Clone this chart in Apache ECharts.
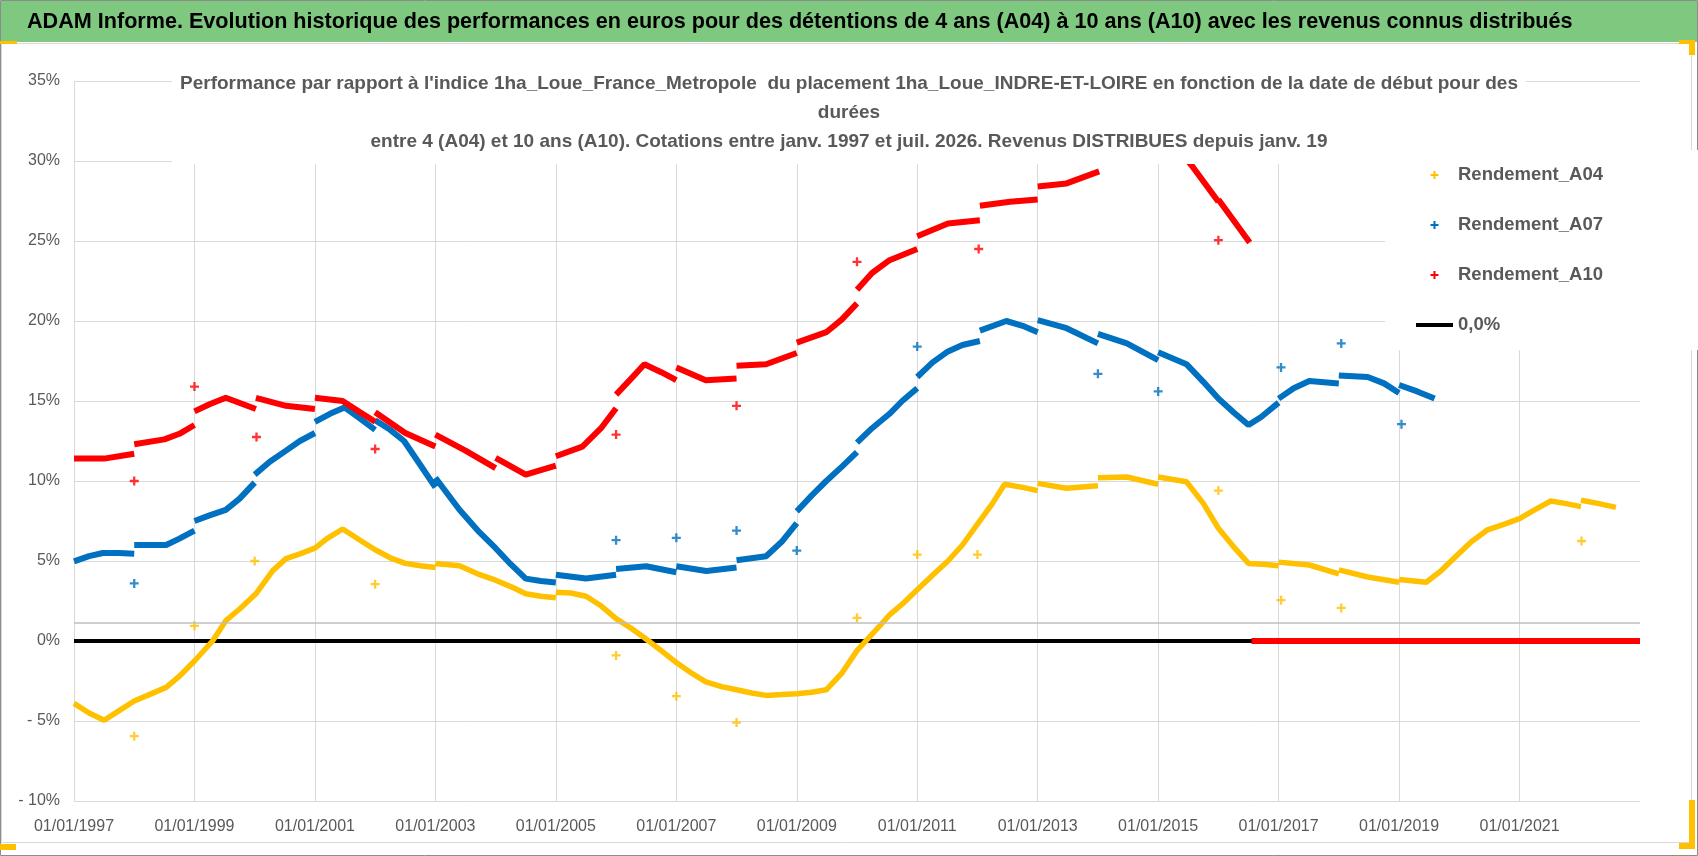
<!DOCTYPE html>
<html>
<head>
<meta charset="utf-8">
<title>ADAM Informe - Rendements</title>
<script src="https://cdn.jsdelivr.net/npm/echarts/dist/echarts.min.js"></script>
<style>
  html, body { margin: 0; padding: 0; background: #fff; }
  #chart { width: 1698px; height: 856px; }
</style>
</head>
<body>
<div id="chart"></div>
<script>
// axe des dates (années décimales), bornes et niveaux
const xMin = 1997, xMax = 2023, xStep = 2;
const yMin = -10, yMax = 35, yStep = 5;
const zeroLevel = 0;
const refLevel = 1.15;

// Rendement_A04 : tronçons entre deux sauts de janvier
const a04Segments = [
  [[1997.0,-3.9],[1997.25,-4.5],[1997.5,-4.95],[1997.75,-4.35],[1998.0,-3.75],[1998.25,-3.35],[1998.53,-2.9],[1998.75,-2.2],[1999.0,-1.25],[1999.3,0.0],[1999.52,1.27],[1999.75,2.0],[2000.02,2.95],[2000.3,4.4],[2000.52,5.15],[2000.75,5.45],[2001.0,5.8],[2001.2,6.4],[2001.46,7.0],[2001.75,6.3],[2002.0,5.7],[2002.25,5.2],[2002.5,4.85],[2002.75,4.7],[2003.0,4.6]],
  [[2003.0,4.85],[2003.4,4.7],[2003.7,4.2],[2004.0,3.8],[2004.25,3.4],[2004.5,2.95],[2004.75,2.8],[2005.0,2.7]],
  [[2005.0,3.05],[2005.25,3.0],[2005.5,2.8],[2005.75,2.2],[2006.0,1.4],[2006.25,0.8],[2006.47,0.2],[2006.75,-0.6],[2007.0,-1.35],[2007.25,-2.0],[2007.49,-2.55],[2007.75,-2.85],[2008.0,-3.05],[2008.25,-3.25],[2008.49,-3.4],[2008.75,-3.35],[2009.0,-3.3],[2009.25,-3.2],[2009.49,-3.05],[2009.75,-2.0],[2010.0,-0.6],[2010.39,1.0],[2010.55,1.67],[2010.75,2.3],[2011.0,3.2],[2011.25,4.1],[2011.51,5.0],[2011.75,6.0],[2012.0,7.3],[2012.25,8.6],[2012.45,9.8],[2012.75,9.6],[2013.0,9.4]],
  [[2013.0,9.85],[2013.48,9.55],[2014.0,9.7]],
  [[2014.0,10.2],[2014.48,10.25],[2015.0,9.8]],
  [[2015.0,10.25],[2015.47,9.95],[2015.75,8.6],[2016.0,7.05],[2016.25,5.9],[2016.5,4.85],[2016.75,4.8],[2017.0,4.7]],
  [[2017.0,4.93],[2017.51,4.75],[2018.0,4.2]],
  [[2018.0,4.45],[2018.48,4.0],[2019.0,3.67]],
  [[2019.0,3.85],[2019.45,3.67],[2019.7,4.4],[2019.92,5.2],[2020.2,6.2],[2020.47,6.95],[2020.75,7.3],[2021.0,7.65],[2021.25,8.2],[2021.52,8.75],[2021.75,8.6],[2022.02,8.4]],
  [[2022.02,8.8],[2022.3,8.6],[2022.6,8.35]]
];
const a04Isolated = [[1998.0,-5.95],[1999.0,0.95],[2000.0,5.0],[2002.0,3.55],[2006.0,-0.9],[2007.0,-3.45],[2008.0,-5.1],[2010.0,1.45],[2011.0,5.4],[2012.0,5.4],[2016.0,9.4],[2017.04,2.55],[2018.04,2.07],[2022.03,6.25]];

// Rendement_A07
const a07Segments = [
  [[1997.0,4.98],[1997.25,5.3],[1997.48,5.5],[1997.75,5.5],[1998.0,5.45]],
  [[1998.0,6.0],[1998.53,6.0],[1998.75,6.4],[1999.0,6.9]],
  [[1999.0,7.5],[1999.25,7.85],[1999.52,8.2],[1999.75,8.9],[2000.0,9.9]],
  [[2000.0,10.4],[2000.25,11.2],[2000.52,11.9],[2000.75,12.5],[2001.0,13.0]],
  [[2001.0,13.7],[2001.25,14.2],[2001.49,14.6],[2001.75,13.9],[2002.0,13.2]],
  [[2002.0,13.8],[2002.25,13.2],[2002.48,12.5],[2002.75,11.0],[2003.0,9.6]],
  [[2003.0,10.2],[2003.4,8.2],[2003.73,6.8],[2004.0,5.8],[2004.25,4.8],[2004.5,3.9],[2004.75,3.75],[2005.0,3.66]],
  [[2005.0,4.14],[2005.5,3.9],[2006.0,4.14]],
  [[2006.0,4.5],[2006.5,4.67],[2007.0,4.3]],
  [[2007.0,4.67],[2007.5,4.38],[2008.0,4.6]],
  [[2008.0,5.05],[2008.49,5.3],[2008.75,6.2],[2009.0,7.37]],
  [[2009.0,8.1],[2009.25,9.1],[2009.49,10.0],[2009.75,10.9],[2010.0,11.8]],
  [[2010.0,12.4],[2010.25,13.3],[2010.54,14.2],[2010.75,15.0],[2011.0,15.8]],
  [[2011.0,16.5],[2011.25,17.4],[2011.51,18.1],[2011.75,18.5],[2012.04,18.75]],
  [[2012.04,19.4],[2012.48,20.0],[2012.75,19.7],[2013.0,19.3]],
  [[2013.0,20.05],[2013.48,19.55],[2014.0,18.6]],
  [[2014.0,19.2],[2014.48,18.6],[2015.0,17.55]],
  [[2015.0,18.05],[2015.47,17.3],[2015.75,16.2],[2016.0,15.15],[2016.25,14.3],[2016.5,13.5],[2016.71,14.0],[2017.0,14.9]],
  [[2017.0,15.15],[2017.25,15.8],[2017.51,16.25],[2018.0,16.1]],
  [[2018.0,16.6],[2018.48,16.5],[2018.75,16.1],[2019.0,15.5]],
  [[2019.0,16.0],[2019.3,15.6],[2019.59,15.15]]
];
const a07Isolated = [[1998.0,3.6],[2006.0,6.3],[2007.0,6.45],[2008.0,6.9],[2009.0,5.65],[2011.0,18.4],[2014.0,16.7],[2015.0,15.6],[2017.04,17.1],[2018.04,18.6],[2019.04,13.55]];

// Rendement_A10 (au-dessus de 30% : caché sous le titre)
const a10Segments = [
  [[1997.0,11.4],[1997.5,11.4],[1998.0,11.7]],
  [[1998.0,12.3],[1998.5,12.6],[1998.75,12.95],[1999.0,13.5]],
  [[1999.0,14.35],[1999.25,14.8],[1999.52,15.2],[2000.02,14.5]],
  [[2000.02,15.2],[2000.52,14.7],[2001.0,14.5]],
  [[2001.0,15.2],[2001.46,15.0],[2001.75,14.3],[2002.0,13.7]],
  [[2002.0,14.3],[2002.5,13.0],[2003.0,12.15]],
  [[2003.0,12.9],[2003.5,11.9],[2004.0,10.8]],
  [[2004.0,11.45],[2004.5,10.4],[2005.0,10.96]],
  [[2005.0,11.55],[2005.44,12.15],[2005.75,13.3],[2006.0,14.55]],
  [[2006.0,15.4],[2006.25,16.4],[2006.47,17.3],[2006.75,16.8],[2007.0,16.3]],
  [[2007.0,17.1],[2007.49,16.3],[2008.0,16.4]],
  [[2008.0,17.2],[2008.49,17.3],[2009.0,18.0]],
  [[2009.0,18.65],[2009.49,19.3],[2009.75,20.1],[2010.0,21.1]],
  [[2010.0,21.95],[2010.25,23.0],[2010.54,23.8],[2011.0,24.5]],
  [[2011.0,25.3],[2011.51,26.1],[2012.04,26.3]],
  [[2012.04,27.2],[2012.54,27.45],[2013.0,27.6]],
  [[2013.0,28.4],[2013.48,28.6],[2014.02,29.35]],
  [[2014.02,30.3],[2014.5,31.0],[2015.0,31.6]],
  [[2015.0,32.3],[2015.56,29.7],[2016.0,27.45]],
  [[2016.0,27.6],[2016.52,24.9]]
];
const a10Zero = [[2016.55,0],[2023.0,0]];
const a10Isolated = [[1998.0,10.0],[1999.0,15.9],[2000.03,12.75],[2002.0,12.0],[2006.0,12.9],[2008.0,14.7],[2010.0,23.7],[2012.02,24.5],[2016.0,25.05]];

const seriesNames = ['Rendement_A04', 'Rendement_A07', 'Rendement_A10', '0,0%'];
const colors = ['#ffc000', '#0070c0', '#ff0000', '#000000'];

const bannerText = "ADAM Informe. Evolution historique des performances en euros pour des détentions de 4 ans (A04) à 10 ans (A10) avec les revenus connus distribués";
const chartTitle = [
  "Performance par rapport à l'indice 1ha_Loue_France_Metropole  du placement 1ha_Loue_INDRE-ET-LOIRE en fonction de la date de début pour des",
  "durées",
  "entre 4 (A04) et 10 ans (A10). Cotations entre janv. 1997 et juil. 2026. Revenus DISTRIBUES depuis janv. 19"
];

const FONT = "'Liberation Sans', Arial, sans-serif";
const PLUS = 'path://M2.6,0H4.4V2.6H7V4.4H4.4V7H2.6V4.4H0V2.6H2.6Z';
const BAR = 'path://M0,0H37V4H0Z';

function joinSegments(segs) {
  const out = [];
  segs.forEach((s, i) => {
    if (i) out.push(null);
    s.forEach(p => out.push(p));
  });
  return out;
}

function curve(name, color, data, width) {
  return {
    name: name, type: 'line', data: data, color: color,
    symbol: 'none', connectNulls: false, smooth: false,
    lineStyle: { width: width, color: color, cap: 'butt' },
    emphasis: { disabled: true }
  };
}

function isolated(name, color, data) {
  return {
    name: name, type: 'scatter', data: data, color: color,
    symbol: PLUS, symbolSize: 9,
    itemStyle: { color: color },
    emphasis: { disabled: true }
  };
}

const chart = echarts.init(document.getElementById('chart'));

const option = {
  animation: false,
  backgroundColor: '#fff',
  graphic: [
    { type: 'rect', z: -10, shape: { x: 1, y: 1, width: 1696, height: 41 }, style: { fill: '#7ec880' } },
    { type: 'rect', z: -10, shape: { x: 1.5, y: 43.5, width: 1690, height: 799 }, style: { fill: 'none', stroke: '#d9d9d9', lineWidth: 1 } },
    { type: 'rect', z: -10, shape: { x: 0.5, y: 0.5, width: 1697, height: 855 }, style: { fill: 'none', stroke: '#8c8c8c', lineWidth: 1 } },
    { type: 'rect', z: 50, shape: { x: 0, y: 41, width: 17, height: 3 }, style: { fill: '#ffc000' } },
    { type: 'rect', z: 50, shape: { x: 0, y: 844, width: 16, height: 6 }, style: { fill: '#ffc000' } },
    { type: 'rect', z: 50, shape: { x: 1679, y: 40, width: 16, height: 4 }, style: { fill: '#ffc000' } },
    { type: 'rect', z: 50, shape: { x: 1689, y: 40, width: 6, height: 15 }, style: { fill: '#ffc000' } },
    { type: 'rect', z: 50, shape: { x: 1689, y: 800, width: 6, height: 49 }, style: { fill: '#ffc000' } },
    { type: 'rect', z: 50, shape: { x: 1679, y: 843, width: 16, height: 6 }, style: { fill: '#ffc000' } }
  ],
  title: [
    {
      text: bannerText, left: 27, top: 11, padding: 0,
      textStyle: { fontFamily: FONT, fontSize: 21.6, fontWeight: 'bold', color: '#000' }
    },
    {
      text: chartTitle.join('\n'), left: 'center', top: 67,
      padding: [2, 8, 8, 8], backgroundColor: '#fff',
      textStyle: { fontFamily: FONT, fontSize: 19, fontWeight: 'bold', color: '#595959', lineHeight: 29 }
    }
  ],
  legend: {
    orient: 'vertical', left: 1385, top: 150,
    itemWidth: 37, itemHeight: 8, itemGap: 24,
    padding: [12, 100, 12, 31],
    backgroundColor: '#fff',
    selectedMode: false,
    itemStyle: { borderWidth: 0 },
    textStyle: { fontFamily: FONT, fontSize: 18.5, fontWeight: 'bold', color: '#595959', lineHeight: 26 },
    data: seriesNames.map((n, i) => ({
      name: n,
      icon: i < 3 ? PLUS : BAR,
      itemStyle: { color: colors[i], borderWidth: 0 }
    }))
  },
  grid: { left: 74, right: 58, top: 81, bottom: 55, containLabel: false, outerBoundsMode: 'none' },
  xAxis: {
    type: 'value', min: xMin, max: xMax, interval: xStep,
    axisLine: { show: false }, axisTick: { show: false },
    splitLine: { show: true, showMaxLine: false, lineStyle: { color: '#d9d9d9', width: 1 } },
    axisLabel: {
      margin: 18, color: '#595959', fontFamily: FONT, fontSize: 16,
      showMaxLabel: false, hideOverlap: false,
      formatter: v => (v >= xMax ? '' : '01/01/' + v)
    }
  },
  yAxis: {
    type: 'value', min: yMin, max: yMax, interval: yStep,
    axisLine: { show: false }, axisTick: { show: false },
    splitLine: { show: true, lineStyle: { color: '#d9d9d9', width: 1 } },
    axisLabel: {
      margin: 14, color: '#595959', fontFamily: FONT, fontSize: 16,
      formatter: v => (v < 0 ? '- ' + (-v) + '%' : v + '%')
    }
  },
  series: [
    Object.assign(curve(seriesNames[3], colors[3], [[xMin, zeroLevel], [xMax, zeroLevel]], 4), {
      markLine: {
        silent: true, symbol: 'none', label: { show: false },
        lineStyle: { color: '#bfbfbf', type: 'solid', width: 1.5 },
        data: [{ yAxis: refLevel }]
      }
    }),
    curve(seriesNames[0], colors[0], joinSegments(a04Segments), 5.5),
    curve(seriesNames[1], colors[1], joinSegments(a07Segments), 6),
    curve(seriesNames[2], colors[2], joinSegments(a10Segments), 6),
    curve(seriesNames[2], colors[2], a10Zero, 6),
    isolated(seriesNames[0], colors[0], a04Isolated),
    isolated(seriesNames[1], colors[1], a07Isolated),
    isolated(seriesNames[2], colors[2], a10Isolated)
  ]
};

chart.setOption(option);
window.addEventListener('resize', () => chart.resize());
</script>
</body>
</html>
